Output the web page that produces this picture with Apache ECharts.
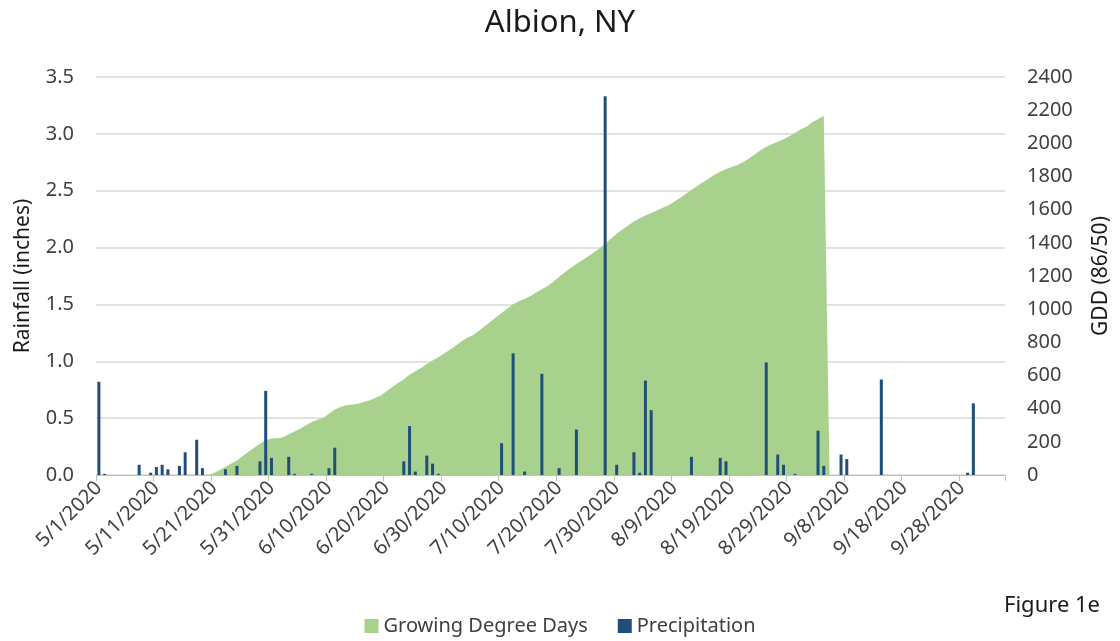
<!DOCTYPE html>
<html>
<head>
<meta charset="utf-8">
<script src="https://cdn.jsdelivr.net/npm/echarts@6/dist/echarts.min.js"></script>
<style>
html,body{margin:0;padding:0;background:#fff;}
#chart{width:1120px;height:641px;}
</style>
</head>
<body>
<div id="chart"></div>
<script>
// ---- data ----
const startDate = '5/1/2020';
const dayCount = 158; // 5/1/2020 .. 10/5/2020

const rainDates = ['5/1/2020','5/2/2020','5/8/2020','5/10/2020','5/11/2020','5/12/2020','5/13/2020','5/15/2020','5/16/2020','5/18/2020','5/19/2020','5/23/2020','5/25/2020','5/29/2020','5/30/2020','5/31/2020','6/3/2020','6/4/2020','6/7/2020','6/10/2020','6/11/2020','6/23/2020','6/24/2020','6/25/2020','6/27/2020','6/28/2020','6/29/2020','7/10/2020','7/12/2020','7/14/2020','7/17/2020','7/20/2020','7/23/2020','7/28/2020','7/30/2020','8/2/2020','8/3/2020','8/4/2020','8/5/2020','8/12/2020','8/17/2020','8/18/2020','8/25/2020','8/27/2020','8/28/2020','8/30/2020','9/3/2020','9/4/2020','9/7/2020','9/8/2020','9/14/2020','9/29/2020','9/30/2020'];
const rainValues = [0.82,0.01,0.09,0.02,0.07,0.09,0.05,0.08,0.20,0.31,0.06,0.05,0.08,0.12,0.74,0.15,0.16,0.01,0.01,0.06,0.24,0.12,0.43,0.03,0.17,0.10,0.01,0.28,1.07,0.03,0.89,0.06,0.40,3.33,0.09,0.20,0.02,0.83,0.57,0.16,0.15,0.12,0.99,0.18,0.09,0.01,0.39,0.08,0.18,0.14,0.84,0.02,0.63];

const gddStart = '5/20/2020';
const gddValues = [0,12,30,50,70,88,115,140,165,188,210,220,222,228,245,262,279,300,320,333,345,370,395,410,420,425,430,440,450,465,480,505,530,555,578,605,625,645,670,690,710,732,755,780,805,828,842,868,895,923,950,977,1004,1030,1047,1062,1080,1100,1120,1140,1165,1195,1222,1248,1272,1295,1318,1342,1366,1395,1425,1455,1480,1505,1528,1548,1565,1580,1595,1612,1627,1648,1670,1695,1718,1742,1765,1788,1810,1829,1845,1858,1869,1888,1909,1933,1958,1979,1995,2010,2025,2043,2062,2085,2100,2128,2145,2167,0];

const leftTicks = {min:0, max:3.5, interval:0.5};
const rightTicks = {min:0, max:2400, interval:200};

// ---- build categories ----
const categories = [];
{
  const p = startDate.split('/').map(Number);
  const d0 = new Date(p[2], p[0]-1, p[1]);
  for (let i = 0; i < dayCount; i++) {
    const d = new Date(d0.getFullYear(), d0.getMonth(), d0.getDate() + i);
    categories.push((d.getMonth()+1) + '/' + d.getDate() + '/' + d.getFullYear());
  }
}
const rainSeries = categories.map(() => null);
rainDates.forEach((d, i) => { const k = categories.indexOf(d); if (k >= 0) rainSeries[k] = rainValues[i]; });
const gddSeries = categories.map(() => null);
{
  const k0 = categories.indexOf(gddStart);
  gddValues.forEach((v, i) => { gddSeries[k0 + i] = v; });
}

const FONT = 'Noto Sans';
const chart = echarts.init(document.getElementById('chart'), null, {renderer:'canvas'});
chart.setOption({
  animation: false,
  backgroundColor: '#ffffff',
  textStyle: {fontFamily: FONT},
  title: {
    text: 'Albion, NY', left: 'center', top: 3,
    textStyle: {fontFamily: FONT, fontSize: 31, fontWeight: 'normal', color: '#1a1a1a'}
  },
  legend: {
    left: 'center', top: 611,
    itemWidth: 14, itemHeight: 14, itemGap: 30, icon: 'rect',
    textStyle: {fontFamily: FONT, fontSize: 20, color: '#404040'},
    data: ['Growing Degree Days', 'Precipitation']
  },
  graphic: [{
    type: 'text', right: 20, top: 595,
    style: {text: 'Figure 1e', fontFamily: FONT, fontSize: 22, fill: '#1a1a1a'}
  }],
  grid: {left: 96, right: 115, top: 77, bottom: 166},
  xAxis: {
    type: 'category', data: categories, boundaryGap: true,
    axisLine: {show: true, lineStyle: {color: '#bfbfbf', width: 1}},
    axisTick: {show: true, interval: 9, length: 6, lineStyle: {color: '#bfbfbf'}},
    axisLabel: {interval: 9, rotate: 45, margin: 10, fontFamily: FONT, fontSize: 20, color: '#404040'},
    splitLine: {show: false}
  },
  yAxis: [{
    type: 'value', position: 'left', min: leftTicks.min, max: leftTicks.max, interval: leftTicks.interval,
    name: 'Rainfall (inches)', nameLocation: 'middle', nameRotate: 90, nameGap: 62,
    nameTextStyle: {fontFamily: FONT, fontSize: 21, color: '#1a1a1a'},
    axisLine: {show: false}, axisTick: {show: false},
    axisLabel: {formatter: v => v.toFixed(1), margin: 22, fontFamily: FONT, fontSize: 20, color: '#404040'},
    splitLine: {show: true, lineStyle: {color: '#d9d9d9', width: 1.5}}
  }, {
    type: 'value', position: 'right', min: rightTicks.min, max: rightTicks.max, interval: rightTicks.interval,
    name: 'GDD (86/50)', nameLocation: 'middle', nameRotate: 90, nameGap: 86,
    nameTextStyle: {fontFamily: FONT, fontSize: 21, color: '#1a1a1a'},
    axisLine: {show: false}, axisTick: {show: false},
    axisLabel: {formatter: v => String(v), margin: 22, fontFamily: FONT, fontSize: 20, color: '#404040'},
    splitLine: {show: false}
  }],
  series: [{
    name: 'Growing Degree Days', type: 'line', yAxisIndex: 1, data: gddSeries,
    showSymbol: false, symbol: 'none', smooth: false, connectNulls: false,
    lineStyle: {width: 0, color: '#a9d18e'},
    itemStyle: {color: '#a9d18e'},
    areaStyle: {color: '#a9d18e', opacity: 1},
    z: 1
  }, {
    name: 'Precipitation', type: 'bar', yAxisIndex: 0, data: rainSeries,
    barWidth: 3, itemStyle: {color: '#1f4e79'},
    z: 3
  }]
});
</script>
</body>
</html>
